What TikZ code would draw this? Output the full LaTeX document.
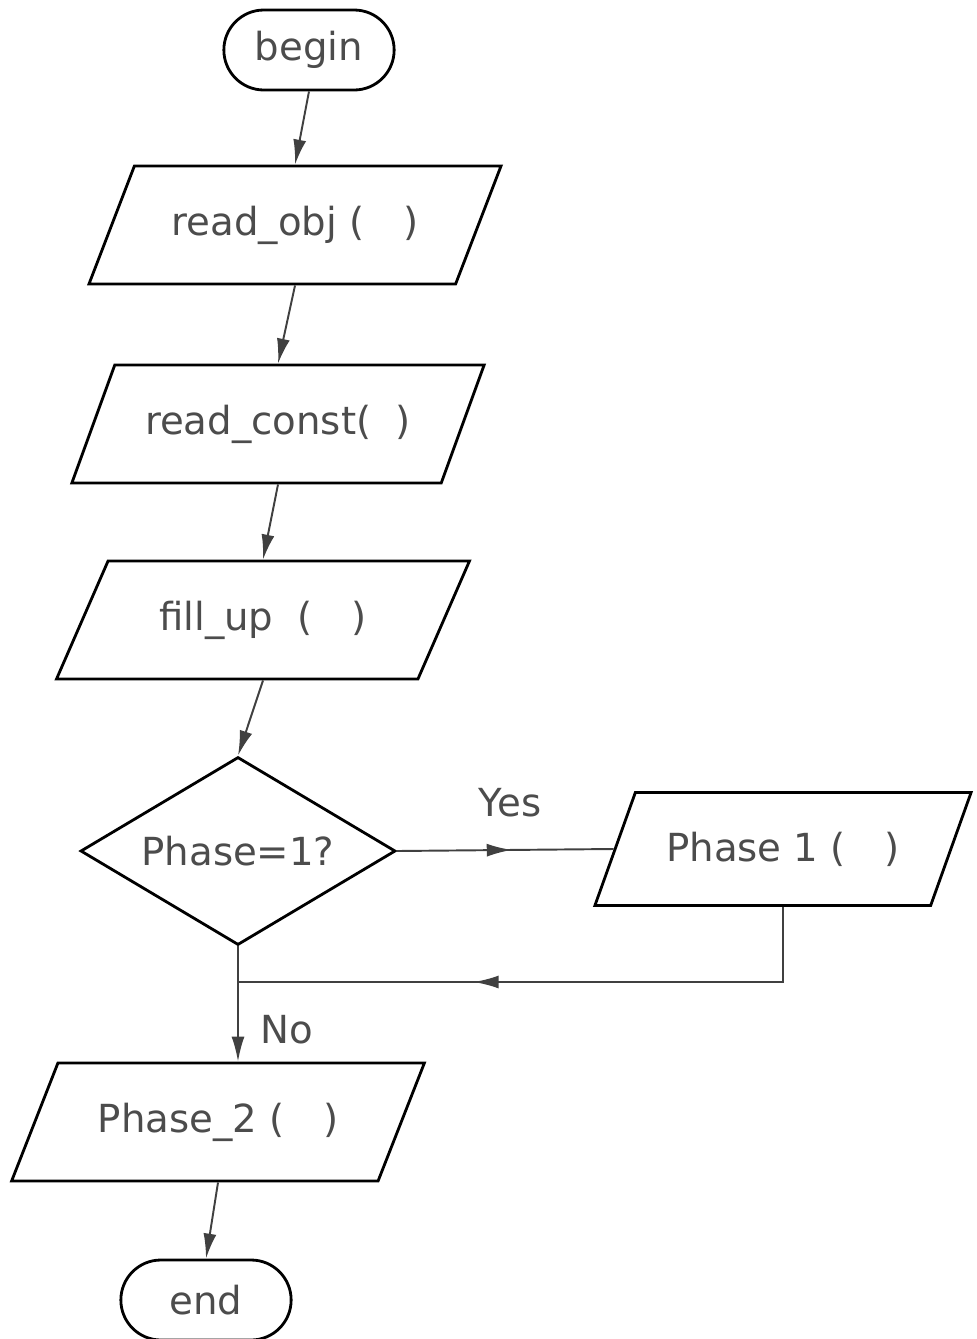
\documentclass[tikz,border=0pt]{standalone}
\usepackage{fontspec}
\setmainfont{DejaVu Sans}
\usetikzlibrary{shapes.geometric}
\usetikzlibrary{shapes.misc}
\usetikzlibrary{arrows.meta}
\usetikzlibrary{decorations.markings}
\tikzstyle{block}=[draw, line width=1.6pt, text=black!70, font=\fontsize{22}{26}\selectfont]
\tikzstyle{terminal}=[block, rounded rectangle, minimum width=3.64cm, minimum height=1.6cm]
\tikzstyle{io}=[block, trapezium, trapezium left angle=54, trapezium right angle=126, trapezium stretches=true, minimum width=8.26cm, minimum height=2.36cm]
\tikzstyle{decision}=[block, diamond, aspect=1.68, minimum width=6.3cm, minimum height=3.76cm]
\tikzstyle{flow}=[line width=1.1pt, draw=black!75, -{Latex[length=5mm, width=2.6mm]}]
\tikzstyle{midflow}=[line width=1.1pt, draw=black!75, postaction={decorate}]
\tikzstyle{answer}=[text=black!70, font=\fontsize{22}{26}\selectfont]

\begin{document}
\begin{tikzpicture}
        \useasboundingbox (0, 0) rectangle (19.54, -26.78);
        \node[terminal]  (begin) at (6.18, -1.0) {begin};
        \node[io]        (readobj) at (5.9, -4.5) {read\_obj (\quad)};
        \node[io]        (readconst) at (5.56, -8.48) {read\_const(~~)};
        \node[io]        (fillup) at (5.26, -12.4) {fill\_up \ (\quad)};
        \node[decision]  (phase) at (4.76, -17.02) {Phase=1?};
        \node[io, minimum width=7.54cm, minimum height=2.26cm] (phaseone) at (15.66, -16.98) {Phase 1 (\quad)};
        \node[io]        (phasetwo) at (4.36, -22.44) {Phase\_2 (\quad)};
        \node[terminal]  (stop) at (4.12, -26.0) {end};
        \node[answer]    (yes) at (10.2, -16.06) {Yes};
        \node[answer]    (no) at (5.74, -20.6) {No};
        \coordinate      (join) at (4.76, -19.64);
        \draw[flow] (begin.south) -- (readobj.north);
        \draw[flow] (readobj.south) -- (readconst.north);
        \draw[flow] (readconst.south) -- (fillup.north);
        \draw[flow] (fillup.south) -- (phase.north);
        \draw[midflow, decoration={markings, mark=at position 0.53 with {\arrow{Latex[length=5mm, width=2.6mm]}}}]
            (phase.east) -- (phaseone.west);
        \draw[midflow, decoration={markings, mark=at position 0.62 with {\arrow{Latex[length=5mm, width=2.6mm]}}}]
            (phaseone.south) |- (join);
        \draw[flow] (phase.south) -- (phase.south |- phasetwo.north);
        \draw[flow] (phasetwo.south) -- (stop.north);
    \end{tikzpicture}
\end{document}
